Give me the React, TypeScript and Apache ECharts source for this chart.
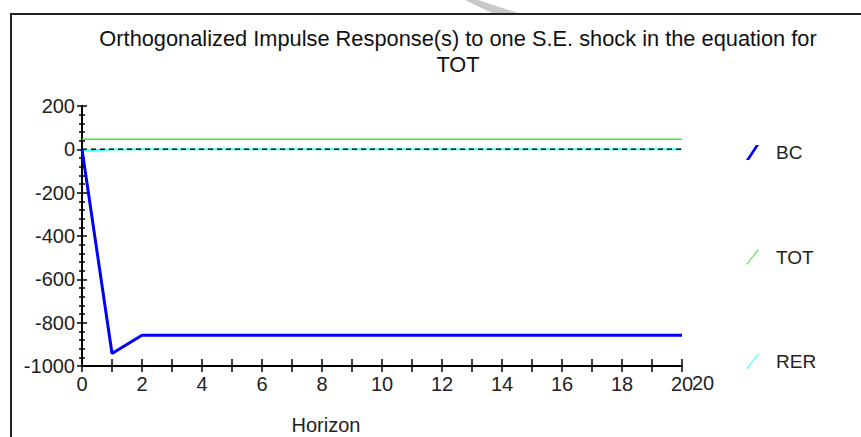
import React, { useEffect, useRef } from "react";
import * as echarts from "echarts";

const horizon = [0, 1, 2, 3, 4, 5, 6, 7, 8, 9, 10, 11, 12, 13, 14, 15, 16, 17, 18, 19, 20];
const bcValues = [0, -942, -858, -858, -858, -858, -858, -858, -858, -858, -858, -858, -858, -858, -858, -858, -858, -858, -858, -858, -858];
const totValues = [46, 46, 46, 46, 46, 46, 46, 46, 46, 46, 46, 46, 46, 46, 46, 46, 46, 46, 46, 46, 46];
const rerValues = [-6, -1, 0, 0, 0, 0, 0, 0, 0, 0, 0, 0, 0, 0, 0, 0, 0, 0, 0, 0, 0];
const zeroLine = [0, 0, 0, 0, 0, 0, 0, 0, 0, 0, 0, 0, 0, 0, 0, 0, 0, 0, 0, 0, 0];
const titleLines = ["Orthogonalized Impulse Response(s) to one S.E. shock in the equation for", "TOT"];
const seriesNames = ["BC", "TOT", "RER"];

const pair = (vals: number[]) => horizon.map((h, i) => [h, vals[i]]);

export default function App() {
  const ref = useRef<HTMLDivElement>(null);
  useEffect(() => {
    const chart = echarts.init(ref.current!, null, { renderer: "svg" });
    const font = "'Liberation Sans', Arial, sans-serif";
    const yBase = {
      type: "value",
      min: -1000,
      max: 200,
      interval: 200,
      axisLine: { show: true, onZero: false, lineStyle: { color: "#000", width: 2 } },
      splitLine: { show: false },
    };
    const xBase = {
      type: "value",
      min: 0,
      max: 20,
      interval: 1,
      axisLine: { show: true, onZero: false, lineStyle: { color: "#000", width: 2 } },
      splitLine: { show: false },
    };
    chart.setOption({
      animation: false,
      backgroundColor: "#fff",
      title: {
        text: titleLines.join("\n"),
        left: 453,
        top: 20,
        textAlign: "center",
        textStyle: {
          fontFamily: font,
          fontSize: 21.8,
          fontWeight: "normal",
          color: "#111",
          lineHeight: 26,
        },
      },
      grid: { left: 82, right: 179, top: 106, bottom: 71 },
      legend: {
        orient: "vertical",
        left: 746,
        top: 143,
        itemWidth: 13,
        itemHeight: 15,
        itemGap: 85.5,
        padding: 0,
        selectedMode: false,
        textStyle: { fontFamily: font, fontSize: 19, color: "#222", padding: [0, 0, 0, 12] },
        data: [
          { name: "BC", icon: "path://M0,15L3.2,15L13,0L9.8,0Z", itemStyle: { color: "#0000ff", borderWidth: 0 } },
          { name: "TOT", icon: "path://M0,15L1.3,15L13,0L11.7,0Z", itemStyle: { color: "#33ee33", borderWidth: 0 } },
          { name: "RER", icon: "path://M0,15L1.3,15L13,0L11.7,0Z", itemStyle: { color: "#33ffff", borderWidth: 0 } },
        ],
      },
      xAxis: [
        {
          ...xBase,
          axisTick: { show: true, inside: false, length: 6, lineStyle: { color: "#000", width: 1.5 } },
          axisLabel: {
            show: true,
            margin: 8,
            fontFamily: font,
            fontSize: 20,
            color: "#222",
            formatter: (v: number) => (v % 2 === 0 ? String(v) : ""),
          },
        },
        {
          ...xBase,
          position: "bottom",
          axisTick: { show: true, inside: true, length: 7, lineStyle: { color: "#000", width: 1.5 } },
          axisLabel: { show: false },
        },
      ],
      yAxis: [
        {
          ...yBase,
          axisTick: { show: true, inside: false, length: 5, lineStyle: { color: "#000", width: 1.5 } },
          minorTick: { show: true, splitNumber: 5, length: 3, lineStyle: { color: "#000", width: 1.5 } },
          minorSplitLine: { show: false },
          axisLabel: {
            show: true,
            margin: 7,
            fontFamily: font,
            fontSize: 20,
            color: "#222",
            formatter: (v: number) => String(v),
          },
        },
        {
          ...yBase,
          position: "left",
          axisTick: { show: true, inside: true, length: 5, lineStyle: { color: "#000", width: 1.5 } },
          minorTick: { show: true, splitNumber: 5, length: 3, lineStyle: { color: "#000", width: 1.5 } },
          minorSplitLine: { show: false },
          axisLabel: { show: false },
        },
      ],
      series: [
        {
          name: seriesNames[1],
          type: "line",
          data: pair(totValues),
          showSymbol: false,
          symbol: "none",
          color: "#33ee33",
          lineStyle: { color: "#33ee33", width: 1.5 },
          z: 2,
        },
        {
          name: seriesNames[2],
          type: "line",
          data: pair(rerValues),
          showSymbol: false,
          symbol: "none",
          color: "#33ffff",
          lineStyle: { color: "#33ffff", width: 2 },
          z: 2,
        },
        {
          name: "zero",
          type: "line",
          data: pair(zeroLine),
          showSymbol: false,
          symbol: "none",
          color: "#000",
          lineStyle: { color: "#111", width: 1.5, type: [5, 4] },
          z: 3,
        },
        {
          name: seriesNames[0],
          type: "line",
          data: pair(bcValues),
          showSymbol: false,
          symbol: "none",
          color: "#0000ff",
          lineStyle: { color: "#0000ff", width: 3 },
          z: 4,
        },
      ],
      graphic: [
        {
          type: "rect",
          shape: { x: 11, y: 14, width: 900, height: 500 },
          style: { fill: "none", stroke: "#222", lineWidth: 2 },
          silent: true,
          z: -1,
        },
        {
          type: "polygon",
          shape: { points: [[465, 0], [478, 0], [518, 13], [492, 13]] },
          style: { fill: "#c8c8c8" },
          silent: true,
        },
        {
          type: "text",
          x: 703,
          y: 383,
          style: { text: "20", fontFamily: font, fontSize: 20, fill: "#222", textAlign: "center", textVerticalAlign: "middle" },
        },
        {
          type: "text",
          x: 326,
          y: 425,
          style: { text: "Horizon", fontFamily: font, fontSize: 20, fill: "#222", textAlign: "center", textVerticalAlign: "middle" },
        },
      ],
    });
    return () => chart.dispose();
  }, []);
  return <div ref={ref} style={{ width: 861, height: 437, position: "absolute", left: 0, top: 0 }} />;
}
